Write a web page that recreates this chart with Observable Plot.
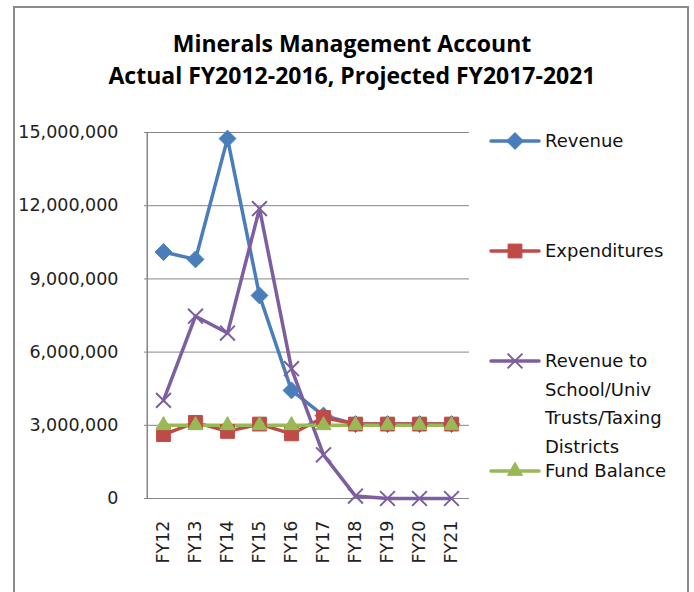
<!DOCTYPE html>
<html>
<head>
<meta charset="utf-8">
<script src="https://cdn.jsdelivr.net/npm/d3@7"></script>
<script src="https://cdn.jsdelivr.net/npm/@observablehq/plot@0.6"></script>
<style>
  html, body { margin: 0; padding: 0; background: #fff; }
  #wrap { position: relative; width: 694px; height: 592px; overflow: hidden; font-family: "DejaVu Sans", sans-serif; }
  #frame { position: absolute; left: 13px; top: 6px; width: 676px; height: 640px; border: 2px solid #8a8a8a; box-sizing: border-box; }
  #title { position: absolute; left: 0; width: 704px; top: 27px; text-align: center; font-family: "Open Sans", sans-serif; font-weight: bold; font-size: 23px; line-height: 32px; color: #000; }
  #chart { position: absolute; left: 0; top: 0; }
  .leg { position: absolute; left: 489px; display: flex; align-items: flex-start; font-size: 18px; color: #111; line-height: 28.5px; }
  .leg svg { flex: none; margin-top: 3px; }
  .leg span { margin-left: 4px; }
</style>
</head>
<body>
<div id="wrap">
  <div id="frame"></div>
  <div id="chart"></div>
  <div id="title">Minerals Management Account<br>Actual FY2012-2016, Projected FY2017-2021</div>
  <div id="legend"></div>
</div>
<script>
// ---- data ----
const categories = ["FY12","FY13","FY14","FY15","FY16","FY17","FY18","FY19","FY20","FY21"];
const revenue      = [10100000, 9800000, 14750000, 8320000, 4430000, 3400000, 3050000, 3050000, 3050000, 3050000];
const expenditures = [2620000, 3120000, 2750000, 3050000, 2650000, 3320000, 3050000, 3050000, 3050000, 3050000];
const schoolTrusts = [4020000, 7470000, 6780000, 11880000, 5320000, 1790000, 100000, 0, 0, 0];
const fundBalance  = [3000000, 3000000, 3000000, 3000000, 3000000, 3000000, 3000000, 3000000, 3000000, 3000000];
const yTicks = [0, 3000000, 6000000, 9000000, 12000000, 15000000];
const seriesNames = ["Revenue", "Expenditures", "Revenue to School/Univ Trusts/Taxing Districts", "Fund Balance"];
const legendLabels = ["Revenue", "Expenditures", "Revenue to<br>School/Univ<br>Trusts/Taxing<br>Districts", "Fund Balance"];
const colors = ["#4a7ebb", "#be4b48", "#7d5fa0", "#98b954"];

const seriesValues = [revenue, expenditures, schoolTrusts, fundBalance];
const rows = seriesNames.map((name, i) => categories.map((c, j) => ({series: name, idx: i, fy: c, value: seriesValues[i][j]})));

const symbolSpec = [
  {symbol: "diamond2", r: 7.6, fill: colors[0], stroke: colors[0], strokeWidth: 1},
  {symbol: "square", r: 7.8, fill: colors[1], stroke: colors[1], strokeWidth: 1},
  {symbol: "times", r: 6.8, fill: "none", stroke: colors[2], strokeWidth: 2},
  {symbol: "triangle", r: 5.6, fill: colors[3], stroke: colors[3], strokeWidth: 1}
];

const marks = [
  Plot.gridY(yTicks, {stroke: "#868686", strokeOpacity: 1, strokeWidth: 1}),
  Plot.ruleX([categories[0]], {y1: 0, y2: 15000000, stroke: "#868686", strokeWidth: 1.5, dx: -16.25})
];
rows.forEach((data, i) => {
  marks.push(Plot.line(data, {x: "fy", y: "value", stroke: colors[i], strokeWidth: 3.5, curve: "linear"}));
});
rows.forEach((data, i) => {
  const s = symbolSpec[i];
  marks.push(Plot.dot(data, {x: "fy", y: "value", symbol: () => s.symbol, r: s.r, fill: s.fill, stroke: s.stroke, strokeWidth: s.strokeWidth}));
});

const chart = Plot.plot({
  width: 694,
  height: 592,
  marginLeft: 144,
  marginRight: 225,
  marginTop: 132,
  marginBottom: 94,
  style: {fontFamily: "DejaVu Sans, sans-serif", fontSize: "17.5px", color: "#222", background: "transparent", overflow: "visible"},
  symbol: {type: "identity"},
  x: {type: "point", domain: categories, padding: 0.5, label: null, tickSize: 0, tickRotate: -90, tickPadding: 22},
  y: {domain: [0, 15000000], ticks: yTicks, tickFormat: d3.format(","), label: null, tickSize: 0, tickPadding: 26},
  marks
});
document.getElementById("chart").appendChild(chart);

// ---- legend ----
const legendTops = [127, 237, 347, 457];
const legend = document.getElementById("legend");
seriesNames.forEach((name, i) => {
  const d = document.createElement("div");
  d.className = "leg";
  d.style.top = legendTops[i] + "px";
  const sw = d3.create("svg").attr("width", 52).attr("height", 22);
  sw.append("line").attr("x1", 2).attr("x2", 50).attr("y1", 11).attr("y2", 11)
    .attr("stroke", colors[i]).attr("stroke-width", 3.5).attr("stroke-linecap", "round");
  const s = symbolSpec[i];
  const symType = {diamond2: d3.symbolDiamond2, square: d3.symbolSquare, times: d3.symbolTimes, triangle: d3.symbolTriangle}[s.symbol];
  sw.append("path").attr("transform", "translate(26,11)")
    .attr("d", d3.symbol(symType, s.r * s.r * Math.PI)())
    .attr("fill", s.fill).attr("stroke", s.stroke).attr("stroke-width", s.strokeWidth);
  d.appendChild(sw.node());
  const t = document.createElement("span");
  t.innerHTML = legendLabels[i];
  d.appendChild(t);
  legend.appendChild(d);
});
</script>
</body>
</html>
